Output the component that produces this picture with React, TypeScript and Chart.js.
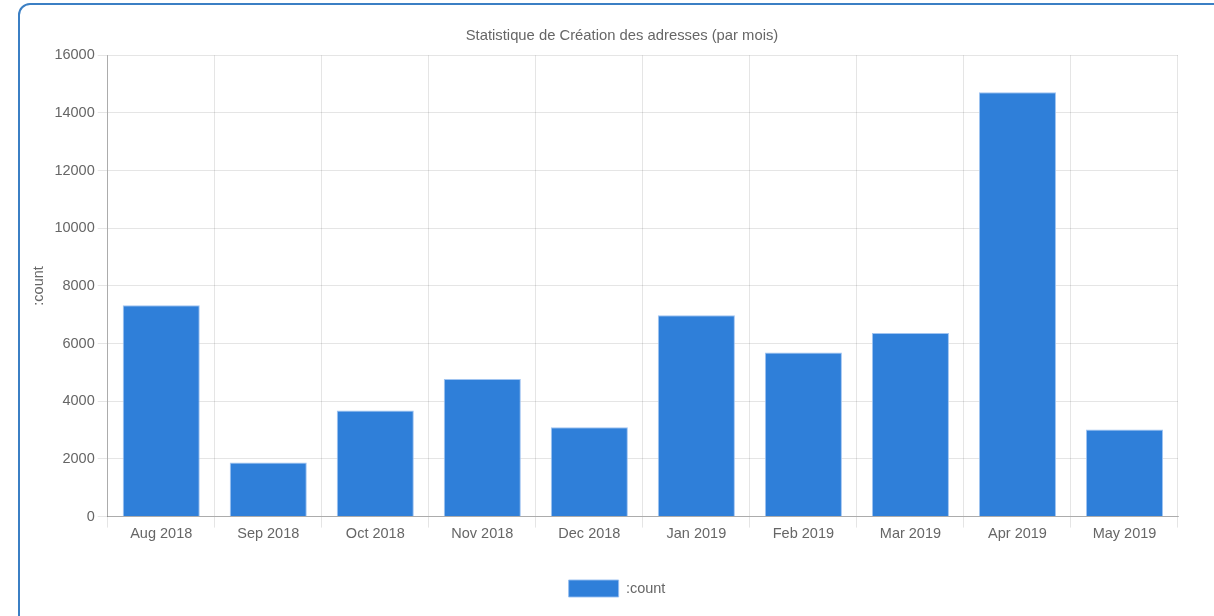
import React, { useEffect, useRef } from "react";
import { Chart, registerables } from "chart.js";

Chart.register(...registerables);

const categories = ["Aug 2018", "Sep 2018", "Oct 2018", "Nov 2018", "Dec 2018", "Jan 2019", "Feb 2019", "Mar 2019", "Apr 2019", "May 2019"];
const countValues = [7330, 1875, 3680, 4770, 3100, 6980, 5690, 6370, 14720, 3020];
const seriesLabel = ":count";
const chartTitle = "Statistique de Création des adresses (par mois)";
const yAxisTitle = ":count";

const legendShift = {
  id: "legendShift",
  afterLayout(chart: any) {
    if (chart.legend) {
      chart.legend.left -= 5;
      chart.legend.right -= 5;
    }
  },
};

export default function App() {
  const ref = useRef<HTMLCanvasElement | null>(null);
  useEffect(() => {
    document.body.style.overflow = "hidden";
    const font = { family: "'Liberation Sans', Arial, sans-serif", size: 14.5 };
    const chart = new Chart(ref.current!, {
      type: "bar",
      data: {
        labels: categories,
        datasets: [
          {
            label: seriesLabel,
            data: countValues,
            backgroundColor: "#2f7fd9",
            borderColor: "rgba(150,190,240,0.9)",
            borderWidth: 1,
          },
        ],
      },
      plugins: [legendShift],
      options: {
        animation: false,
        responsive: false,
        maintainAspectRatio: false,
        plugins: {
          title: {
            display: true,
            text: chartTitle,
            color: "#666",
            font: { ...font, size: 14.8, weight: "normal" },
            padding: { top: 10, bottom: 10.5 },
          },
          legend: {
            position: "bottom",
            labels: { color: "#666", font, boxWidth: 50, boxHeight: 17, padding: 10 },
          },
          tooltip: { enabled: false },
        },
        scales: {
          x: {
            grid: { color: "rgba(0,0,0,0.1)", tickLength: 11, offset: true },
            border: { color: "rgba(0,0,0,0.25)" },
            ticks: { color: "#666", font, padding: -2, maxRotation: 0 },
            afterFit: (s: any) => {
              s.height += 29;
            },
          },
          y: {
            min: 0,
            max: 16000,
            grid: { color: "rgba(0,0,0,0.1)", tickLength: 10 },
            border: { color: "rgba(0,0,0,0.25)" },
            ticks: {
              color: "#666",
              font,
              stepSize: 2000,
              padding: 3,
              callback: (v: any) => String(v),
            },
            title: { display: true, text: yAxisTitle, color: "#666", font, padding: { top: 4, bottom: 4 } },
          },
          yRight: {
            position: "right",
            display: true,
            grid: { display: false, drawTicks: false },
            border: { display: false },
            ticks: { display: false },
            afterFit: (s: any) => {
              s.width = 40;
            },
          },
        },
      } as any,
    });
    return () => chart.destroy();
  }, []);
  return (
    <div>
      <div
        style={{
          position: "fixed",
          left: 18,
          top: 3,
          width: 1260,
          height: 660,
          border: "2px solid #3b7fc4",
          borderRadius: 12,
          boxSizing: "border-box",
        }}
      />
      <canvas
        ref={ref}
        width={1192}
        height={590}
        style={{ position: "fixed", left: 26, top: 17, width: 1192, height: 590 }}
      />
    </div>
  );
}
